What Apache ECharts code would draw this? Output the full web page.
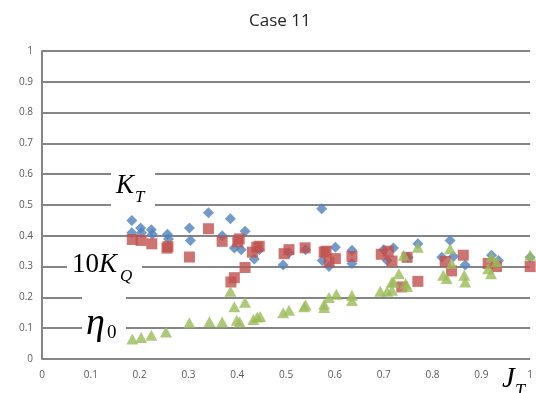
<!DOCTYPE html>
<html>
<head>
<meta charset="utf-8">
<script src="https://cdn.jsdelivr.net/npm/echarts@6/dist/echarts.min.js"></script>
<style>html,body{margin:0;padding:0;background:#fff}#c{width:536px;height:393px}</style>
</head>
<body>
<div id="c"></div>
<script>
const xTicks = [0,0.1,0.2,0.3,0.4,0.5,0.6,0.7,0.8,0.9,1];
const yTicks = [0,0.1,0.2,0.3,0.4,0.5,0.6,0.7,0.8,0.9,1];

const ktJ = [0.184,0.184,0.202,0.204,0.224,0.226,0.257,0.259,0.302,0.304,0.341,0.369,0.386,0.394,0.408,0.416,0.435,0.445,0.494,0.506,0.540,0.573,0.574,0.588,0.601,0.635,0.635,0.700,0.707,0.720,0.750,0.770,0.819,0.836,0.843,0.867,0.921,0.935,1.0];
const ktV = [0.45,0.41,0.425,0.41,0.42,0.405,0.405,0.39,0.425,0.385,0.475,0.40,0.455,0.36,0.355,0.415,0.325,0.355,0.305,0.345,0.355,0.488,0.32,0.30,0.363,0.353,0.31,0.355,0.32,0.36,0.33,0.374,0.33,0.385,0.333,0.305,0.337,0.32,0.33];

const kqJ = [0.185,0.203,0.225,0.256,0.258,0.302,0.341,0.369,0.387,0.394,0.401,0.404,0.416,0.431,0.44,0.445,0.496,0.506,0.539,0.578,0.582,0.588,0.601,0.635,0.695,0.709,0.717,0.737,0.748,0.770,0.826,0.839,0.863,0.914,0.931,1.0];
const kqV = [0.388,0.385,0.374,0.36,0.365,0.331,0.423,0.382,0.25,0.264,0.38,0.39,0.297,0.347,0.363,0.366,0.342,0.355,0.361,0.347,0.35,0.315,0.326,0.333,0.34,0.35,0.318,0.234,0.33,0.252,0.317,0.286,0.337,0.31,0.30,0.30];

const etaJ = [0.185,0.203,0.224,0.254,0.302,0.343,0.369,0.386,0.394,0.399,0.405,0.416,0.433,0.441,0.447,0.494,0.506,0.537,0.540,0.578,0.578,0.588,0.603,0.635,0.635,0.693,0.707,0.717,0.717,0.72,0.731,0.741,0.745,0.748,0.77,0.822,0.829,0.836,0.839,0.865,0.867,0.914,0.92,0.921,0.931,1.0];
const etaV = [0.065,0.07,0.077,0.088,0.118,0.121,0.12,0.22,0.17,0.126,0.12,0.184,0.128,0.136,0.138,0.15,0.158,0.17,0.175,0.178,0.167,0.2,0.21,0.207,0.19,0.22,0.22,0.25,0.223,0.25,0.277,0.337,0.245,0.235,0.363,0.272,0.261,0.358,0.31,0.272,0.25,0.293,0.277,0.331,0.315,0.337];

const pairs = (a,b) => a.map((v,i)=>[v,b[i]]);
const grey = '#858585';
const mathFont = '"Liberation Serif", "DejaVu Serif", serif';

const chart = echarts.init(document.getElementById('c'), null, {renderer:'canvas'});
chart.setOption({
  animation: false,
  backgroundColor: '#fff',
  title: {
    text: 'Case 11', left: 244, top: 8,
    textStyle: {fontFamily: '"Open Sans", sans-serif', fontSize: 17, fontWeight: 'normal', color: '#262626'}
  },
  grid: {left: 42, right: 4, top: 51, bottom: 34, containLabel: false},
  xAxis: {
    type: 'value', min: 0, max: 1, interval: 0.1,
    axisLine: {show: false},
    axisTick: {show: false},
    splitLine: {show: false},
    axisLabel: {margin: 11, color: '#595959', fontSize: 10, fontFamily: '"Open Sans", sans-serif',
      formatter: v => { const t = xTicks.find(x => Math.abs(x - v) < 1e-6); return t === undefined ? '' : String(t); }}
  },
  yAxis: {
    type: 'value', min: 0, max: 1, interval: 0.1,
    axisLine: {show: true, lineStyle: {color: grey, width: 2}},
    axisTick: {show: false},
    splitLine: {show: true, lineStyle: {color: grey, width: 2}},
    axisLabel: {margin: 9, color: '#595959', fontSize: 10, fontFamily: '"Open Sans", sans-serif',
      formatter: v => { const t = yTicks.find(x => Math.abs(x - v) < 1e-6); return t === undefined ? '' : String(t); }}
  },
  graphic: [
    {type: 'rect', z: 1, shape: {x: 111, y: 166, width: 44, height: 46}, style: {fill: '#fff'}},
    {type: 'rect', z: 1, shape: {x: 67, y: 246, width: 75, height: 42}, style: {fill: '#fff'}},
    {type: 'rect', z: 1, shape: {x: 82, y: 290, width: 44, height: 50}, style: {fill: '#fff'}},
    {type: 'text', z: 1, left: 116, top: 172, style: {text: 'K', font: 'italic 27px ' + mathFont, fill: '#000'}},
    {type: 'text', z: 1, left: 135, top: 189, style: {text: 'T', font: 'italic 17px ' + mathFont, fill: '#000'}},
    {type: 'text', z: 1, left: 72, top: 251, style: {text: '10', font: '27px ' + mathFont, fill: '#000'}},
    {type: 'text', z: 1, left: 99, top: 251, style: {text: 'K', font: 'italic 27px ' + mathFont, fill: '#000'}},
    {type: 'text', z: 1, left: 120, top: 268, style: {text: 'Q', font: 'italic 17px ' + mathFont, fill: '#000'}},
    {type: 'text', z: 1, left: 86, top: 305, style: {text: 'η', font: 'italic 38px ' + mathFont, fill: '#000'}},
    {type: 'text', z: 1, left: 107, top: 324, style: {text: '0', font: '19px ' + mathFont, fill: '#000'}},
    {type: 'text', z: 1, left: 502, top: 365, style: {text: 'J', font: 'italic 29px ' + mathFont, fill: '#000'}},
    {type: 'text', z: 1, left: 515, top: 383, style: {text: 'T', font: 'italic 18px ' + mathFont, fill: '#000'}}
  ],
  series: [
    {type: 'scatter', name: 'KT', data: pairs(ktJ, ktV), symbol: 'diamond', symbolSize: 11, clip: false,
      itemStyle: {color: '#4f81bd'}, z: 3},
    {type: 'scatter', name: '10KQ', data: pairs(kqJ, kqV), symbol: 'rect', symbolSize: 11, clip: false,
      itemStyle: {color: '#c0504d'}, z: 4},
    {type: 'scatter', name: 'eta0', data: pairs(etaJ, etaV), symbol: 'triangle', symbolSize: [12, 11], clip: false,
      itemStyle: {color: '#9bbb59'}, z: 5}
  ]
});
</script>
</body>
</html>
